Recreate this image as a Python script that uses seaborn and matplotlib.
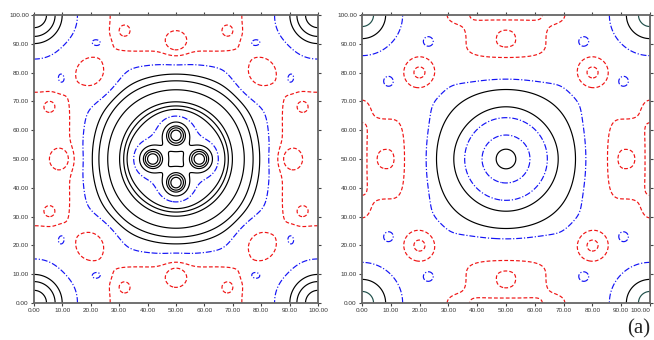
import numpy as np
import matplotlib
matplotlib.use("Agg")
import matplotlib.pyplot as plt
import seaborn as sns

# ---------------- data ----------------
TICKS = [0, 10, 20, 30, 40, 50, 60, 70, 80, 90, 100]
TICK_LABELS = ["%.2f" % t for t in TICKS]

# left map: terms (x, y, amplitude, sigma_x, sigma_y, shape power), each repeated by the square symmetry of the cell
L_BASE = -0.5
L_FX   = [50.0, 50.0, 50.0, 50.0, 20.0, 22.5, 31.5]
L_FY   = [50.0, 58.3, 100.0, 90.0, 80.0, 90.2, 94.5]
L_FAMP = [10.0, 22.7, -1.4, -1.2, -1.48, 0.9, -0.9]
L_FSX  = [14.28, 2.5, 22.7, 3.0, 5.0, 2.2, 2.0]
L_FSY  = [14.28, 2.5, 13.0, 3.0, 5.0, 1.6, 2.0]
L_FPOW = [2, 2, 6, 2, 2, 2, 2]
L_CORNER = [5.03, 6.72, 2.44]          # amplitude, decay length, core
L_MOD_AMP = [-0.09, 0.5]                # four-fold terms: amplitude, radius, width
L_MOD_R   = [31.0, 13.0]
L_MOD_W   = [6.0, 2.0]
L_NEG = [-2.2, -1.2]
L_ZERO = [0.0, 6.32]
L_POS = [0.6, 1.07, 1.88, 3.29, 3.86, 4.42, 11.06, 17.2, 21.0, 25.4]

# right map
R_BASE = -0.3
R_FX   = [50.0, 50.0, 50.0, 33.0, 20.0, 23.0]
R_FY   = [50.0, 92.0, 92.0, 100.0, 80.0, 90.7]
R_FAMP = [1.75, -1.6, -0.45, -1.12, -1.95, 0.77]
R_FSX  = [4.42, 12.2, 1.8, 3.5, 3.85, 1.3]
R_FSY  = [4.42, 5.5, 1.8, 2.6, 3.85, 1.3]
R_FPOW = [2, 4, 2, 2, 2, 2]
R_SHELL = [21.0, 1.85, 3.46, 4.24]      # radius, amplitude, inner width, outer width
R_CORNER = [2.75, 6.7]                  # amplitude, sigma
R_MOD_AMP = [-0.28]
R_MOD_R   = [31.0]
R_MOD_W   = [5.0]
R_NEG = [-2.0, -1.0]
R_ZERO = [0.0]
R_POS = [1.0]
R_POS2 = [2.0]

RED, BLUE, BLACK, TEAL = "#f01414", "#1414f5", "#000000", "#1f4f4a"

# ---------------- helpers ----------------
def wrap(d):
    return (d + 50.0) % 100.0 - 50.0


def expand(px, py, sx, sy):
    a, b = px - 50.0, py - 50.0
    seen = {}
    for u, v, su, sv in ((a, b, sx, sy), (b, a, sy, sx)):
        for ku in (1, -1):
            for kv in (1, -1):
                x = (50.0 + ku * u) % 100.0
                y = (50.0 + kv * v) % 100.0
                seen[(round(x, 3), round(y, 3), su, sv)] = (x, y, su, sv)
    return list(seen.values())


def feature_sum(X, Y, fx, fy, famp, fsx, fsy, fpow):
    F = np.zeros_like(X)
    for px, py, amp, sx, sy, p in zip(fx, fy, famp, fsx, fsy, fpow):
        for x, y, su, sv in expand(px, py, sx, sy):
            dx = np.abs(wrap(X - x)) / su
            dy = np.abs(wrap(Y - y)) / sv
            F += amp * np.exp(-0.5 * (dx ** p + dy ** p))
    return F


def fourfold(X, Y, amps, radii, widths):
    dx, dy = X - 50.0, Y - 50.0
    r = np.hypot(dx, dy)
    r4 = np.where(r > 0, r ** 4, 1.0)
    c4 = (dx ** 4 - 6 * dx ** 2 * dy ** 2 + dy ** 4) / r4
    out = np.zeros_like(X)
    for a, r0, w0 in zip(amps, radii, widths):
        out += a * c4 * np.exp(-0.5 * ((r - r0) / w0) ** 2)
    return out


N = 501
grid = np.linspace(0, 100, N)
X, Y = np.meshgrid(grid, grid)
rc = np.hypot(X - 50.0, Y - 50.0)
rk = np.hypot(wrap(X), wrap(Y))

F_left = (L_BASE + feature_sum(X, Y, L_FX, L_FY, L_FAMP, L_FSX, L_FSY, L_FPOW)
          + L_CORNER[0] * np.exp(-np.sqrt(rk ** 2 + L_CORNER[2] ** 2) / L_CORNER[1])
          + fourfold(X, Y, L_MOD_AMP, L_MOD_R, L_MOD_W))

w = np.where(rc < R_SHELL[0], R_SHELL[2], R_SHELL[3])
F_right = (R_BASE + feature_sum(X, Y, R_FX, R_FY, R_FAMP, R_FSX, R_FSY, R_FPOW)
           + R_SHELL[1] * np.exp(-0.5 * ((rc - R_SHELL[0]) / w) ** 2)
           + R_CORNER[0] * np.exp(-0.5 * (rk / R_CORNER[1]) ** 2)
           + fourfold(X, Y, R_MOD_AMP, R_MOD_R, R_MOD_W))

# ---------------- drawing ----------------
sns.set_theme(style="ticks")
plt.rcParams["font.family"] = ["Liberation Sans", "DejaVu Sans"]

fig = plt.figure(figsize=(6.54, 3.40), dpi=100)
ax_l = fig.add_axes([34 / 654, 37 / 340, 284 / 654, 288 / 340])
ax_r = fig.add_axes([362 / 654, 37 / 340, 288 / 654, 288 / 340])

DASH = (0, (3.2, 1.8))
DASHDOT = (0, (5.0, 1.6, 1.0, 1.6))
LW = 0.85


def draw(ax, F, neg, zero, pos, pos2=None):
    c = ax.contour(X, Y, F, levels=neg, colors=RED, linewidths=LW)
    c.set_linestyle(DASH)
    c = ax.contour(X, Y, F, levels=zero, colors=BLUE, linewidths=LW)
    c.set_linestyle(DASHDOT)
    ax.contour(X, Y, F, levels=pos, colors=BLACK, linewidths=LW, linestyles="solid")
    if pos2:
        ax.contour(X, Y, F, levels=pos2, colors=TEAL, linewidths=LW, linestyles="solid")
    ax.set_xlim(0, 100)
    ax.set_ylim(0, 100)
    ax.set_xticks(TICKS)
    ax.set_yticks(TICKS)
    ax.set_xticklabels(TICK_LABELS)
    ax.set_yticklabels(TICK_LABELS)
    ax.tick_params(direction="out", length=2.5, width=0.8, color="#444444",
                   labelsize=4.6, pad=1.2, top=True, right=True,
                   labeltop=False, labelright=False, labelcolor="#333333")
    for s in ax.spines.values():
        s.set_color("#666666")
        s.set_linewidth(1.3)
    ax.set_xlabel("")
    ax.set_ylabel("")


draw(ax_l, F_left, L_NEG, L_ZERO, L_POS)
draw(ax_r, F_right, R_NEG, R_ZERO, R_POS, R_POS2)
# last label of the right map sits at the figure edge: keep it inside
ax_r.get_xticklabels()[-1].set_horizontalalignment("right")

fig.text(650 / 654, 2 / 340, "(a)", ha="right", va="bottom", fontsize=15,
         family=["Liberation Serif", "DejaVu Serif"])

fig.savefig("out.png", dpi=100)
